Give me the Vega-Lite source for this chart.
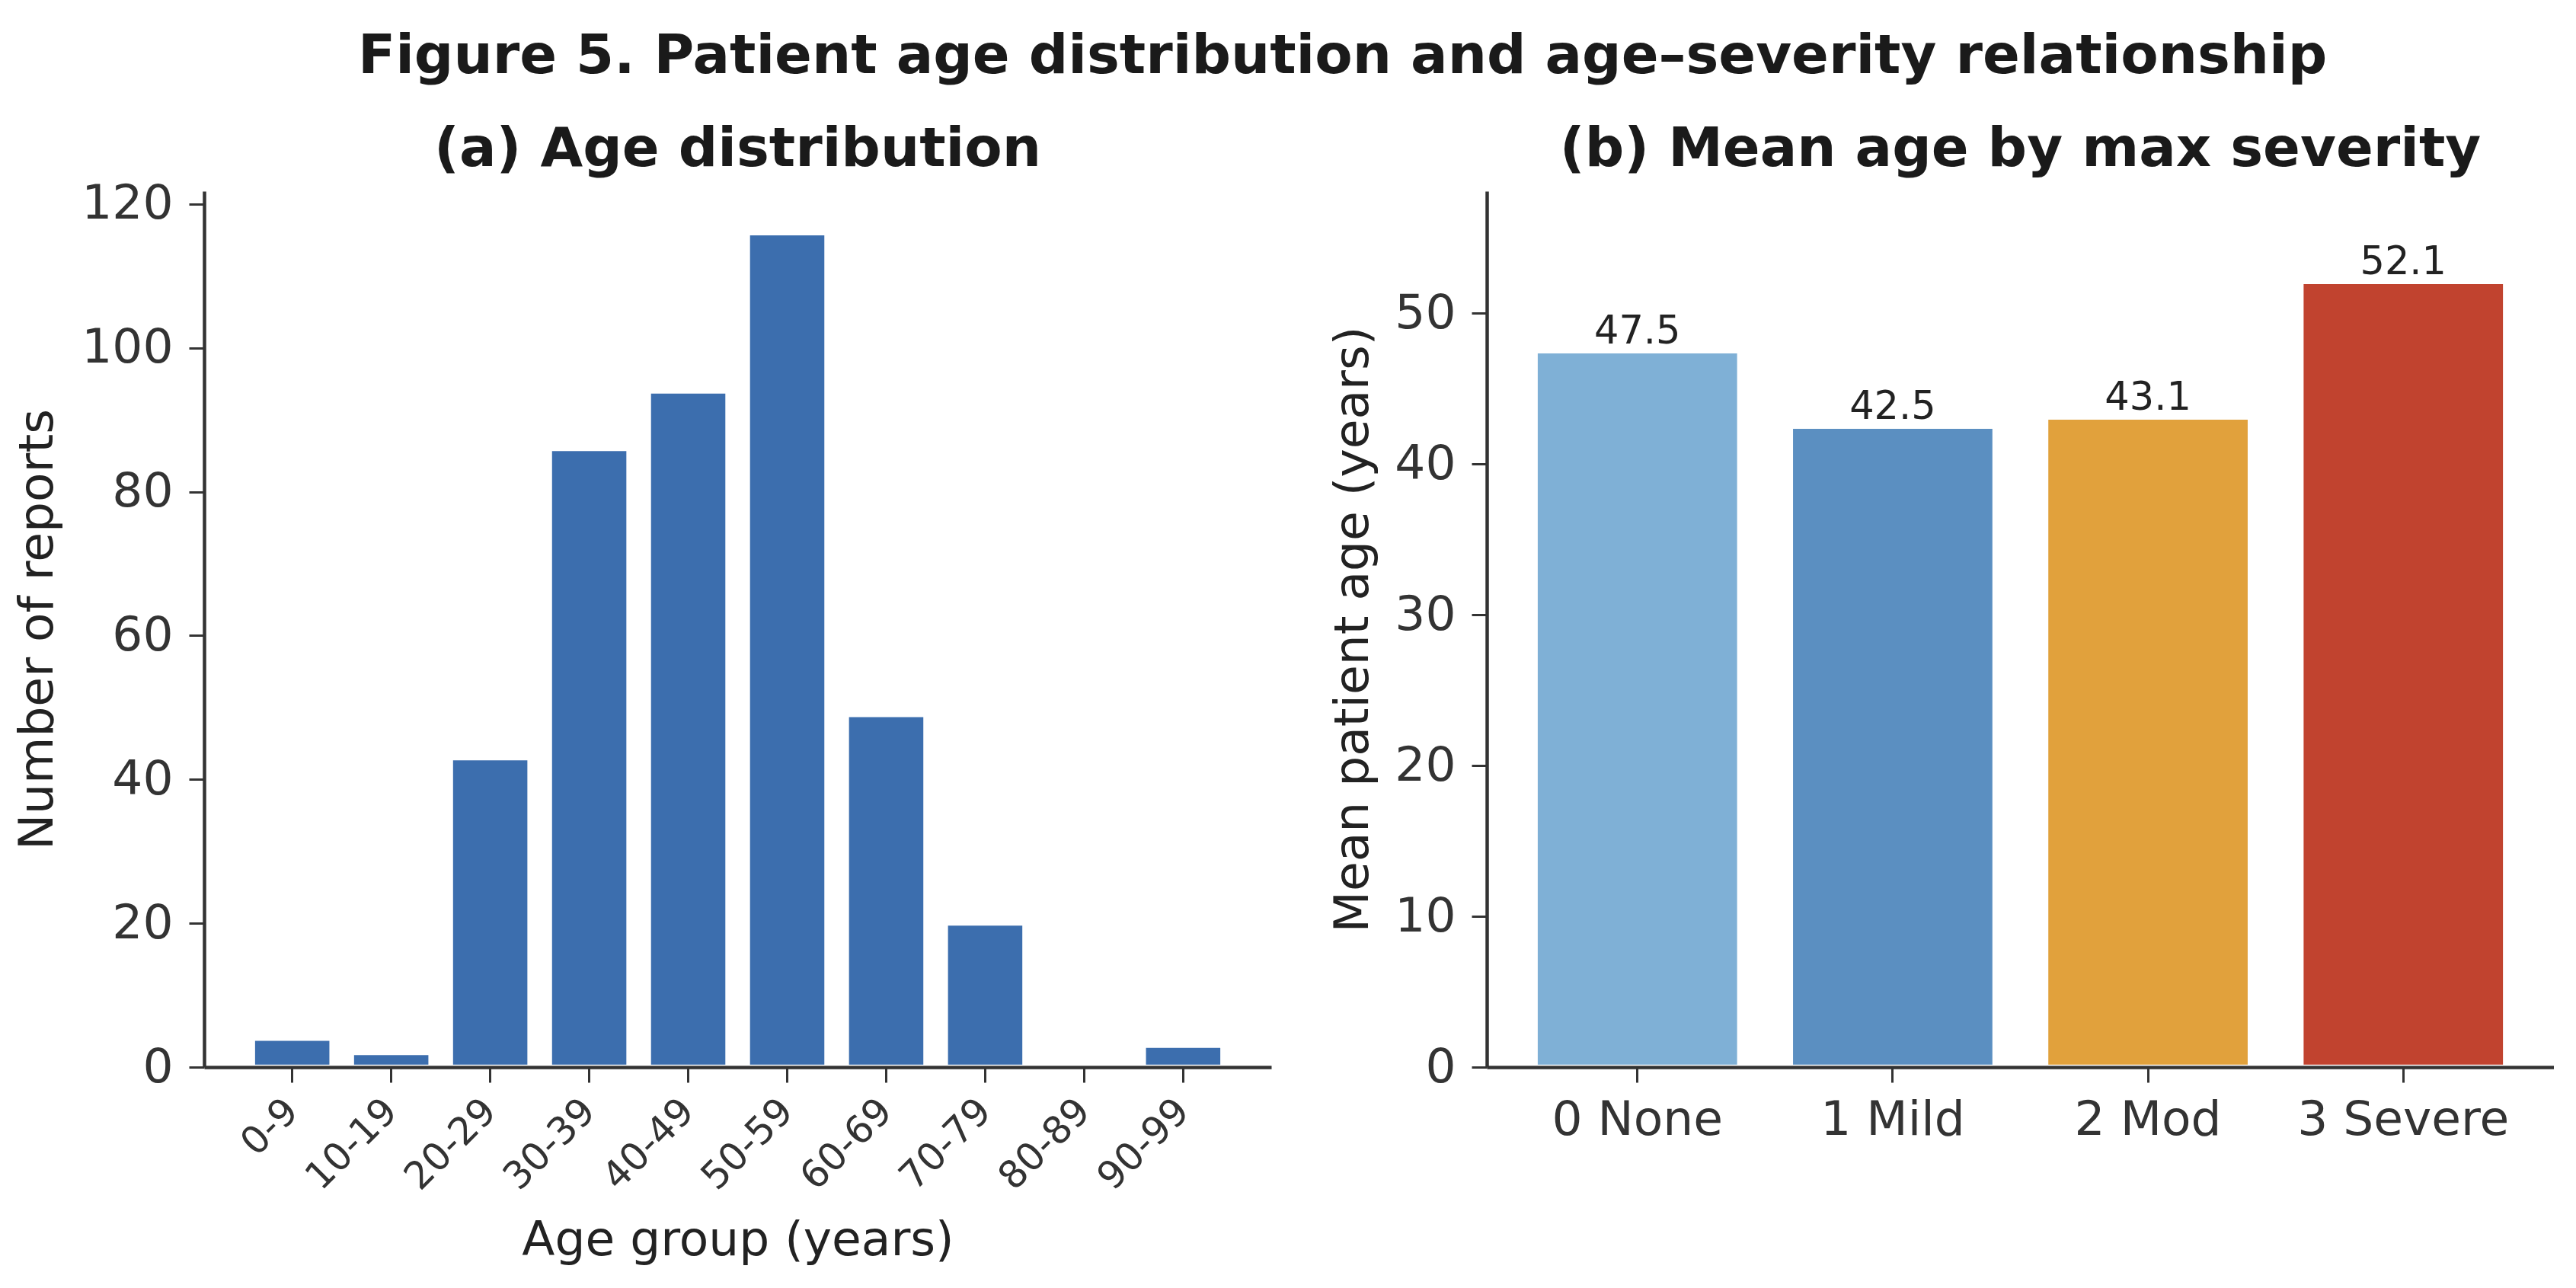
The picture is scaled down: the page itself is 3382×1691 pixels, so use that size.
{
  "$schema": "https://vega.github.io/schema/vega-lite/v6.json",
  "padding": {"left": 18, "top": 37, "right": 0, "bottom": 24},
  "background": "white",
  "title": {
    "text": "Figure 5. Patient age distribution and age–severity relationship",
    "fontSize": 72,
    "fontWeight": "bold",
    "font": "DejaVu Sans",
    "color": "#1a1a1a",
    "anchor": "start",
    "frame": "group",
    "dx": 202,
    "offset": 49
  },
  "config": {
    "font": "DejaVu Sans",
    "view": {"stroke": null},
    "axis": {
      "domainColor": "#333333",
      "domainWidth": 4.5,
      "tickColor": "#333333",
      "tickWidth": 3,
      "tickSize": 20,
      "labelColor": "#333333",
      "labelFont": "DejaVu Sans",
      "labelFontSize": 63,
      "labelLimit": 600,
      "titleFont": "DejaVu Sans",
      "titleFontSize": 63,
      "titleColor": "#222222",
      "titleFontWeight": "normal",
      "grid": false,
      "zindex": 1
    },
    "title": {
      "font": "DejaVu Sans",
      "fontSize": 72,
      "fontWeight": "bold",
      "color": "#1a1a1a",
      "frame": "group",
      "anchor": "middle",
      "offset": 0
    },
    "concat": {"spacing": 76}
  },
  "hconcat": [
    {
      "width": 1401,
      "height": 1150,
      "title": "(a) Age distribution",
      "data": {
        "values": [
          {"age_group": "0-9", "reports": 4},
          {"age_group": "10-19", "reports": 2},
          {"age_group": "20-29", "reports": 43},
          {"age_group": "30-39", "reports": 86},
          {"age_group": "40-49", "reports": 94},
          {"age_group": "50-59", "reports": 116},
          {"age_group": "60-69", "reports": 49},
          {"age_group": "70-79", "reports": 20},
          {"age_group": "80-89", "reports": 0},
          {"age_group": "90-99", "reports": 3}
        ]
      },
      "mark": {"type": "bar", "fill": "#3c6eae", "stroke": "white", "strokeWidth": 6.4},
      "encoding": {
        "x": {
          "field": "age_group",
          "type": "nominal",
          "sort": null,
          "scale": {"paddingInner": 0.2, "paddingOuter": 0.49},
          "axis": {
            "title": "Age group (years)",
            "zindex": 1,
            "labelAngle": -45,
            "labelAlign": "right",
            "labelBaseline": "middle",
            "labelFontSize": 50,
            "labelPadding": 30,
            "titleY": 246,
            "titleBaseline": "alphabetic"
          }
        },
        "y": {
          "field": "reports",
          "type": "quantitative",
          "scale": {"domain": [0, 121.8], "nice": false},
          "axis": {
            "title": "Number of reports",
            "zindex": 1,
            "values": [0, 20, 40, 60, 80, 100, 120],
            "labelPadding": 21,
            "titleX": -200,
            "titleBaseline": "alphabetic"
          }
        }
      }
    },
    {
      "width": 1401,
      "height": 1150,
      "title": {"text": "(b) Mean age by max severity", "offset": 18},
      "data": {
        "values": [
          {"severity": "0 None", "mean_age": 47.5},
          {"severity": "1 Mild", "mean_age": 42.5},
          {"severity": "2 Mod", "mean_age": 43.1},
          {"severity": "3 Severe", "mean_age": 52.1}
        ]
      },
      "encoding": {
        "x": {
          "field": "severity",
          "type": "nominal",
          "sort": null,
          "scale": {"paddingInner": 0.2, "paddingOuter": 0.19},
          "axis": {"title": null, "zindex": 1, "labelAngle": 0, "labelPadding": 18}
        },
        "y": {
          "field": "mean_age",
          "type": "quantitative",
          "scale": {"domain": [0, 58.1], "nice": false},
          "axis": {
            "title": "Mean patient age (years)",
            "zindex": 1,
            "values": [0, 10, 20, 30, 40, 50],
            "labelPadding": 21,
            "titleX": -157,
            "titleBaseline": "alphabetic"
          }
        }
      },
      "layer": [
        {
          "mark": {"type": "bar", "stroke": "white", "strokeWidth": 6.4},
          "encoding": {
            "color": {
              "field": "severity",
              "type": "nominal",
              "scale": {
                "domain": ["0 None", "1 Mild", "2 Mod", "3 Severe"],
                "range": ["#7fb0d6", "#5b8fc1", "#e1a13c", "#c1432f"]
              },
              "legend": null
            }
          }
        },
        {
          "mark": {"type": "text", "baseline": "alphabetic", "dy": -10, "fontSize": 51, "color": "#222222"},
          "encoding": {
            "text": {"field": "mean_age", "type": "quantitative", "format": ".1f"}
          }
        }
      ]
    }
  ]
}
